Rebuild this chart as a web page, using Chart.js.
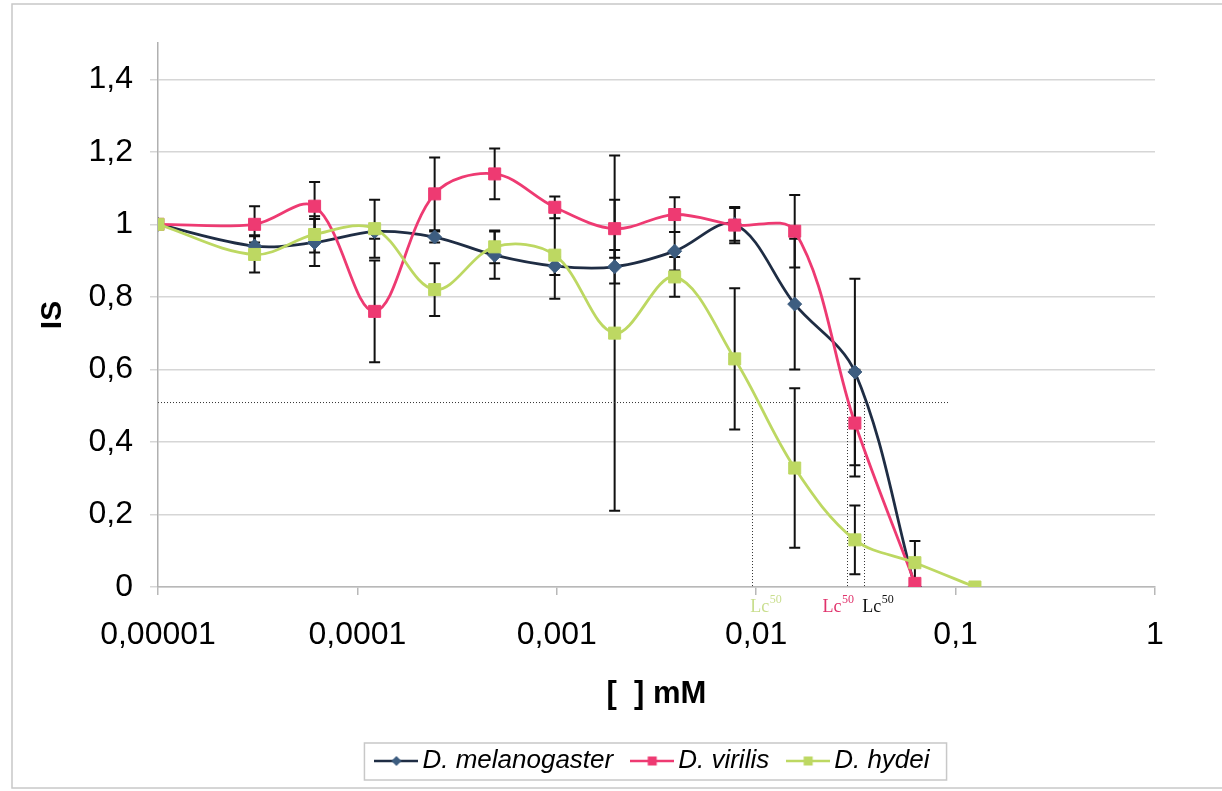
<!DOCTYPE html>
<html>
<head>
<meta charset="utf-8">
<script src="https://cdn.jsdelivr.net/npm/chart.js@4.4.1/dist/chart.umd.min.js"></script>
<style>
  html, body { margin: 0; background: #fff; }
  canvas { display: block; }
</style>
</head>
<body>
<canvas id="c" width="1222" height="791"></canvas>
<script>
/* ── Concentrations (mM), dilutions de moitié depuis 0,125 ── */
const CONC = [0.00001, 0.0000305, 0.000061, 0.000122, 0.000244, 0.000488, 0.000977,
              0.00195, 0.0039, 0.0078, 0.0156, 0.03125, 0.0625, 0.125];

/* ── IS moyen + écart (barres d'erreur) par espèce ── */
const MEL     = [1.00, 0.94, 0.95, 0.98, 0.965, 0.915, 0.885, 0.883, 0.926, 1.00, 0.78, 0.593, 0.00];
const MEL_ERR = [0,    0.03, 0.065, 0.02, 0.015, 0.065, 0.025, 0.046, 0.053, 0.045, 0.18, 0.257, 0];
const VIR     = [1.00, 1.00, 1.05, 0.76, 1.084, 1.139, 1.047, 0.988, 1.027, 0.998, 0.981, 0.452, 0.01];
const VIR_ERR = [0,    0.05, 0.067, 0.14, 0.10, 0.07, 0.03, 0.08, 0.048, 0.05, 0.10, 0.147, 0];
const HYD     = [1.00, 0.917, 0.972, 0.988, 0.82, 0.938, 0.915, 0.70, 0.855, 0.629, 0.328, 0.13, 0.067, 0.00];
const HYD_ERR = [0,    0.05, 0.05, 0.08, 0.073, 0.045, 0.12, 0.49, 0.055, 0.195, 0.22, 0.095, 0.06, 0];

/* ── Axes ── */
const X_TICKS  = [0.00001, 0.0001, 0.001, 0.01, 0.1, 1];
const X_LABELS = ['0,00001', '0,0001', '0,001', '0,01', '0,1', '1'];
const Y_TICKS  = [0, 0.2, 0.4, 0.6, 0.8, 1, 1.2, 1.4];
const Y_LABELS = ['0', '0,2', '0,4', '0,6', '0,8', '1', '1,2', '1,4'];

/* ── Lc50 : niveau, fin de la ligne pointillée, valeurs (hydei, virilis, melanogaster) ── */
const LC_LEVEL = 0.51;
const LC_END   = 0.0916;
const LC50     = [0.00956, 0.0284, 0.0348];
const LC_COL   = ['#c9de8e', '#e0336c', '#111111'];

const FONT = "'Liberation Sans', Arial, sans-serif";
const C_MEL = '#3d5d80', C_MEL_LINE = '#1f2d44';
const C_VIR = '#ee3a72';
const C_HYD = '#bdd862';

const pts = arr => arr.map((v, i) => ({ x: CONC[i], y: v }));

function icon(fill, line, diamond) {
  const cv = document.createElement('canvas');
  cv.width = 44; cv.height = 16;
  const g = cv.getContext('2d');
  g.strokeStyle = line; g.lineWidth = 2.5;
  g.beginPath(); g.moveTo(0, 8); g.lineTo(44, 8); g.stroke();
  g.fillStyle = fill;
  if (diamond) {
    g.beginPath(); g.moveTo(22, 3); g.lineTo(27, 8); g.lineTo(22, 13); g.lineTo(17, 8); g.closePath(); g.fill();
  } else {
    g.fillRect(17.5, 3.5, 9, 9);
  }
  return cv;
}
const ICONS = [icon(C_MEL, C_MEL_LINE, true), icon(C_VIR, C_VIR, false), icon(C_HYD, C_HYD, false)];

/* ── cadre + boîte de légende ── */
const frame = {
  id: 'frame',
  beforeDraw(c) {
    const ctx = c.ctx;
    ctx.save();
    ctx.fillStyle = '#fff';
    ctx.fillRect(0, 0, c.width, c.height);
    ctx.strokeStyle = '#c8c8c8'; ctx.lineWidth = 1.5;
    ctx.strokeRect(12, 4, 1230, 784);
    ctx.restore();
  },
  afterDraw(c) {
    const hb = c.legend.legendHitBoxes;
    if (!hb || !hb.length) return;
    const last = hb[hb.length - 1];
    const ctx = c.ctx;
    ctx.save();
    ctx.strokeStyle = '#c8c8c8'; ctx.lineWidth = 1.5;
    const l = hb[0].left - 19, r = last.left + last.width + 17;
    ctx.strokeRect(l, hb[0].top - 5, r - l, hb[0].height + 11);
    ctx.restore();
  }
};

/* ── barres d'erreur ── */
const errBars = {
  id: 'errBars',
  beforeDatasetsDraw(c) {
    const { ctx, scales: { x, y } } = c;
    ctx.save();
    ctx.strokeStyle = '#111'; ctx.lineWidth = 2;
    c.data.datasets.forEach(ds => {
      ds.err.forEach((e, i) => {
        const v = ds.data[i] && ds.data[i].y;
        if (v == null || !e) return;
        const px = x.getPixelForValue(CONC[i]);
        const t = y.getPixelForValue(v + e), b = y.getPixelForValue(v - e);
        ctx.beginPath();
        ctx.moveTo(px, t); ctx.lineTo(px, b);
        ctx.moveTo(px - 5.5, t); ctx.lineTo(px + 5.5, t);
        ctx.moveTo(px - 5.5, b); ctx.lineTo(px + 5.5, b);
        ctx.stroke();
      });
    });
    ctx.restore();
  }
};

/* ── lignes Lc50 pointillées + étiquettes ── */
const lcLines = {
  id: 'lcLines',
  beforeDatasetsDraw(c) {
    const { ctx, scales: { x, y } } = c;
    const yl = y.getPixelForValue(LC_LEVEL), y0 = y.getPixelForValue(0);
    ctx.save();
    ctx.strokeStyle = '#333'; ctx.lineWidth = 1; ctx.setLineDash([1, 2]);
    ctx.beginPath();
    ctx.moveTo(x.getPixelForValue(X_TICKS[0]), yl + 0.5);
    ctx.lineTo(x.getPixelForValue(LC_END), yl + 0.5);
    LC50.forEach(v => {
      const px = Math.round(x.getPixelForValue(v)) + 0.5;
      ctx.moveTo(px, yl); ctx.lineTo(px, y0);
    });
    ctx.stroke();
    ctx.restore();
  },
  afterDraw(c) {
    const { ctx, scales: { x } } = c;
    const dx = [-2, -24, -2];
    ctx.save();
    LC50.forEach((v, i) => {
      const px = x.getPixelForValue(v) + dx[i];
      ctx.fillStyle = LC_COL[i];
      ctx.font = "18px 'Liberation Serif', 'Times New Roman', serif";
      ctx.textBaseline = 'alphabetic';
      ctx.fillText('Lc', px, 612);
      const w = ctx.measureText('Lc').width;
      ctx.font = "12px 'Liberation Serif', 'Times New Roman', serif";
      ctx.fillText('50', px + w + 0.5, 603);
    });
    ctx.restore();
  }
};

const lineSet = (label, data, err, fill, line, style, radius, order) => ({
  label, data: pts(data), err,
  borderColor: line, backgroundColor: fill,
  pointBackgroundColor: fill, pointBorderColor: fill, pointBorderWidth: 1,
  pointStyle: style, pointRadius: radius, pointHoverRadius: radius,
  borderWidth: 2.8, tension: 0.35, order,
});

new Chart(document.getElementById('c'), {
  type: 'line',
  data: {
    datasets: [
      lineSet('D. melanogaster', MEL, MEL_ERR, C_MEL, C_MEL_LINE, 'rectRot', 7, 2),
      lineSet('D. virilis', VIR, VIR_ERR, C_VIR, C_VIR, 'rect', 8.5, 1),
      lineSet('D. hydei', HYD, HYD_ERR, C_HYD, C_HYD, 'rect', 8.5, 0),
    ],
  },
  options: {
    responsive: false,
    animation: false,
    devicePixelRatio: 1,
    layout: { padding: { left: 0, right: 67, top: 43, bottom: 7 } },
    scales: {
      x: {
        type: 'logarithmic', min: 0.00001, max: 1,
        afterBuildTicks: s => { s.ticks = X_TICKS.map(v => ({ value: v })); },
        afterFit: s => { s.height = 135; s.paddingLeft = 0; s.paddingRight = 0; },
        ticks: {
          callback: (v, i) => X_LABELS[i], autoSkip: false, maxRotation: 0, minRotation: 0,
          padding: 21, color: '#000', font: { family: FONT, size: 32 },
        },
        grid: { drawOnChartArea: false, drawTicks: true, tickLength: 8, color: '#b8b8b8', lineWidth: 1.5 },
        border: { color: '#b8b8b8', width: 1.5 },
        title: {
          display: true, text: '[  ] mM', color: '#000',
          font: { family: FONT, size: 31, weight: 'bold', lineHeight: 1.2 },
          padding: { top: 0, bottom: 9 },
        },
      },
      y: {
        min: 0, max: 1.5,
        afterBuildTicks: s => { s.ticks = Y_TICKS.map(v => ({ value: v })); },
        afterFit: s => { s.width = 158; s.paddingTop = 0; s.paddingBottom = 0; },
        ticks: { callback: (v, i) => Y_LABELS[i], padding: 17, color: '#000', font: { family: FONT, size: 32 } },
        grid: { color: '#d6d6d6', lineWidth: 1.5, tickLength: 8 },
        border: { color: '#b0b0b0', width: 1.5 },
        title: {
          display: true, text: 'IS', color: '#000',
          font: { family: FONT, size: 30, weight: 'bold', lineHeight: 1.2 },
          padding: { top: 35, bottom: 0 },
        },
      },
    },
    plugins: {
      tooltip: { enabled: false },
      legend: {
        position: 'bottom',
        fullSize: false,
        labels: {
          usePointStyle: true, pointStyleWidth: 26, padding: 26, color: '#000',
          font: { family: FONT, size: 26, style: 'italic' },
          sort: (a, b) => a.datasetIndex - b.datasetIndex,
          generateLabels: c => Chart.defaults.plugins.legend.labels.generateLabels(c)
            .map(l => ({ ...l, pointStyle: ICONS[l.datasetIndex] })),
        },
      },
    },
  },
  plugins: [frame, errBars, lcLines],
});
</script>
</body>
</html>
